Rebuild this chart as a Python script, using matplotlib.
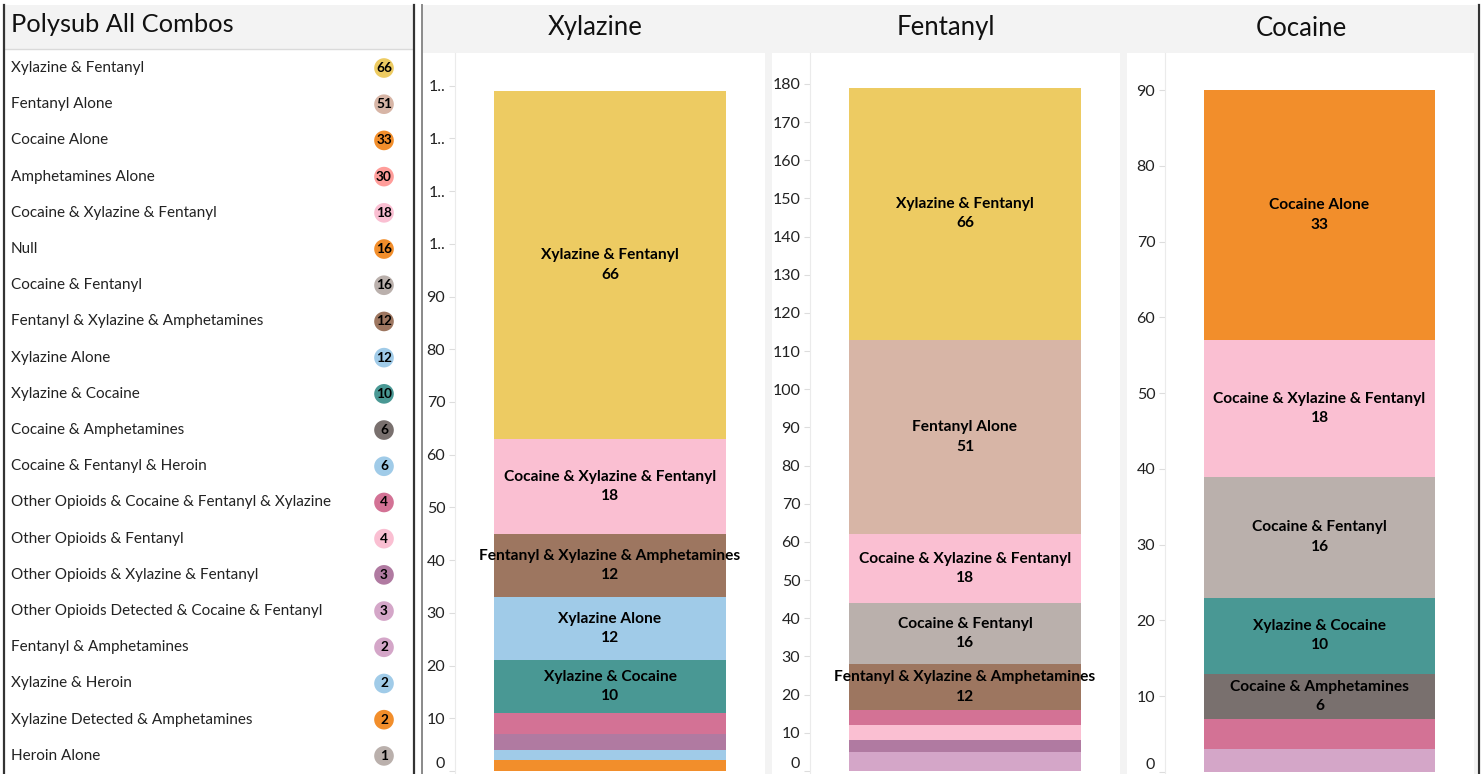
import matplotlib
matplotlib.use("Agg")
import matplotlib.pyplot as plt
from matplotlib.patches import Rectangle

plt.rcParams['font.family'] = ['Lato', 'DejaVu Sans']

# ---------------- data ----------------
legend_labels = [
    "Xylazine & Fentanyl", "Fentanyl Alone", "Cocaine Alone", "Amphetamines Alone",
    "Cocaine & Xylazine & Fentanyl", "Null", "Cocaine & Fentanyl",
    "Fentanyl & Xylazine & Amphetamines", "Xylazine Alone", "Xylazine & Cocaine",
    "Cocaine & Amphetamines", "Cocaine & Fentanyl & Heroin",
    "Other Opioids & Cocaine & Fentanyl & Xylazine", "Other Opioids & Fentanyl",
    "Other Opioids & Xylazine & Fentanyl", "Other Opioids Detected & Cocaine & Fentanyl",
    "Fentanyl & Amphetamines", "Xylazine & Heroin", "Xylazine Detected & Amphetamines",
    "Heroin Alone",
]
legend_values = [66, 51, 33, 30, 18, 16, 16, 12, 12, 10, 6, 6, 4, 4, 3, 3, 2, 2, 2, 1]
legend_colors = [
    "#EDCB62", "#D7B5A6", "#F28E2B", "#FF9D9A", "#FABFD2", "#F28E2B", "#BAB0AC",
    "#9D7660", "#A0CBE8", "#499894", "#79706E", "#A0CBE8", "#D37295", "#FABFD2",
    "#B07AA1", "#D4A6C8", "#D4A6C8", "#A0CBE8", "#F28E2B", "#BAB0AC",
]

panel_titles = ["Xylazine", "Fentanyl", "Cocaine"]

xylazine_cats = ["Xylazine & Fentanyl", "Cocaine & Xylazine & Fentanyl",
                 "Fentanyl & Xylazine & Amphetamines", "Xylazine Alone", "Xylazine & Cocaine",
                 "Other Opioids & Cocaine & Fentanyl & Xylazine",
                 "Other Opioids & Xylazine & Fentanyl", "Xylazine & Heroin",
                 "Xylazine Detected & Amphetamines"]
xylazine_vals = [66, 18, 12, 12, 10, 4, 3, 2, 2]

fentanyl_cats = ["Xylazine & Fentanyl", "Fentanyl Alone", "Cocaine & Xylazine & Fentanyl",
                 "Cocaine & Fentanyl", "Fentanyl & Xylazine & Amphetamines",
                 "Other Opioids & Cocaine & Fentanyl & Xylazine", "Other Opioids & Fentanyl",
                 "Other Opioids & Xylazine & Fentanyl",
                 "Other Opioids Detected & Cocaine & Fentanyl", "Fentanyl & Amphetamines"]
fentanyl_vals = [66, 51, 18, 16, 12, 4, 4, 3, 3, 2]

cocaine_cats = ["Cocaine Alone", "Cocaine & Xylazine & Fentanyl", "Cocaine & Fentanyl",
                "Xylazine & Cocaine", "Cocaine & Amphetamines",
                "Other Opioids & Cocaine & Fentanyl & Xylazine",
                "Other Opioids Detected & Cocaine & Fentanyl"]
cocaine_vals = [33, 18, 16, 10, 6, 4, 3]

xylazine_ticks = [0, 10, 20, 30, 40, 50, 60, 70, 80, 90, 100, 110, 120, 130]
xylazine_ticklabels = ["0", "10", "20", "30", "40", "50", "60", "70", "80", "90",
                       "1..", "1..", "1..", "1.."]
fentanyl_ticks = list(range(0, 181, 10))
cocaine_ticks = list(range(0, 91, 10))

# ---------------- layout ----------------
W, H = 1483, 774
fig = plt.figure(figsize=(W / 100, H / 100), dpi=100, facecolor="white")


def ax_px(x0, y0, x1, y1, **kw):
    return fig.add_axes([x0 / W, 1 - y1 / H, (x1 - x0) / W, (y1 - y0) / H], **kw)


bg = ax_px(0, 0, W, H)
bg.set_xlim(0, W)
bg.set_ylim(H, 0)
bg.axis("off")
bg.set_zorder(-10)

GRAY = "#F3F3F3"
# left panel header
bg.add_patch(Rectangle((5, 5), 408, 44, color=GRAY, lw=0))
bg.plot([5, 413], [49, 49], color="#DADADA", lw=1)
# right panel background & header
bg.add_patch(Rectangle((422, 5), 1055, 769, color=GRAY, lw=0))
bg.add_patch(Rectangle((423, 53), 342, 721, color="white", lw=0))
bg.add_patch(Rectangle((772, 53), 348, 721, color="white", lw=0))
bg.add_patch(Rectangle((1127, 53), 347, 721, color="white", lw=0))
# borders
bg.plot([4, 4], [5, H], color="#333333", lw=1.6)
bg.plot([414, 414], [5, H], color="#333333", lw=1.6)
bg.plot([421.5, 421.5], [5, H], color="#8A8A8A", lw=1.4)
bg.plot([1478.5, 1478.5], [5, H], color="#333333", lw=1.6)

bg.text(11, 25, "Polysub All Combos", fontsize=18.3, va="center", ha="left", color="#111111")

# ---------------- legend list ----------------
leg = ax_px(5, 49, 413, 774)
leg.set_xlim(5, 413)
leg.set_ylim(len(legend_labels) - 0.5, -0.525)
leg.axis("off")
rows = list(range(len(legend_labels)))
leg.scatter([384] * len(rows), rows, s=200, c=legend_colors, edgecolors="none", zorder=2)
for i, (lab, val) in enumerate(zip(legend_labels, legend_values)):
    leg.text(11, i, lab, fontsize=11, va="center", ha="left", color="#222222")
    leg.text(384, i, str(val), fontsize=9.8, fontweight="bold", va="center", ha="center",
             color="black", zorder=3)

# ---------------- bar panels ----------------
panels = [
    (xylazine_cats, xylazine_vals, xylazine_ticks, xylazine_ticklabels, (455, 765), (-0.57, 136.2), 595),
    (fentanyl_cats, fentanyl_vals, fentanyl_ticks, [str(t) for t in fentanyl_ticks], (810, 1120), (-0.79, 188.1), 946),
    (cocaine_cats, cocaine_vals, cocaine_ticks, [str(t) for t in cocaine_ticks], (1165, 1474), (-0.26, 94.9), 1301),
]
color_map = dict(zip(legend_labels, legend_colors))

for title, (cats, vals, ticks, tlabels, (x0, x1), ylim, tx) in zip(panel_titles, panels):
    ax = ax_px(x0, 53, x1, 774)
    ax.set_facecolor("white")
    ax.set_xlim(-0.5, 0.5)
    ax.set_ylim(*ylim)
    bottom = 0
    for cat, v in zip(cats[::-1], vals[::-1]):
        ax.bar(0, v, width=0.75, bottom=bottom, color=color_map[cat], edgecolor="none")
        if v >= 6:
            ax.text(0, bottom + v / 2, f"{cat}\n{v}", ha="center", va="center",
                    fontsize=11.2, fontweight="bold", color="black", linespacing=1.5)
        bottom += v
    ax.set_yticks(ticks)
    ax.set_yticklabels(tlabels)
    ax.set_xticks([])
    for s in ["top", "right", "bottom"]:
        ax.spines[s].set_visible(False)
    ax.spines["left"].set_color("#EBEBEB")
    ax.tick_params(axis="y", length=4, width=0.8, color="#DDDDDD", pad=3,
                   labelsize=11.5, labelcolor="#222222")
    ax.get_yticklabels()[0].set_va("bottom")
    bg.text(tx, 28, title, fontsize=18.5, ha="center", va="center", color="#111111")

fig.savefig("out.png", dpi=100, facecolor="white")
